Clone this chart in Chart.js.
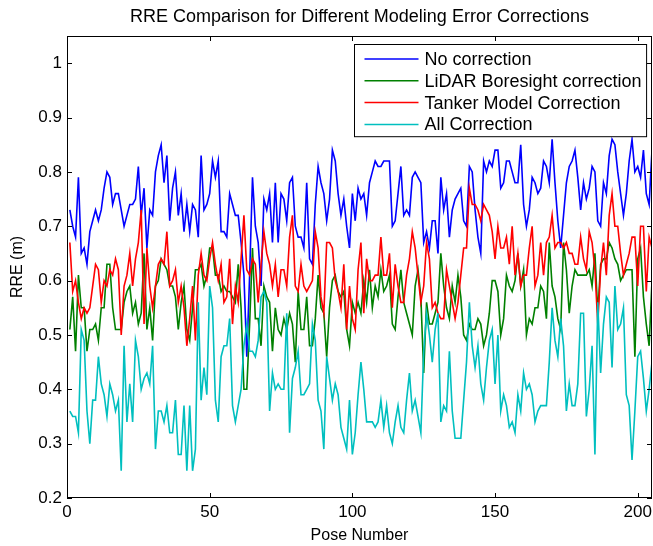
<!DOCTYPE html>
<html lang="en">
<head>
    <meta charset="UTF-8">
    <title>RRE Comparison for Different Modeling Error Corrections</title>
    <script src="https://cdn.jsdelivr.net/npm/chart.js"></script>
    <style>
        html, body { margin: 0; padding: 0; background: #fff; }
        #rreChart { display: block; }
    </style>
</head>
<body>
    <canvas id="rreChart" width="653" height="546"></canvas>

    <script>
        // Series (RRE in metres, one value per pose, pose 1..205)
        const seriesNames = ['No correction', 'LiDAR Boresight correction', 'Tanker Model Correction', 'All Correction'];
        const seriesColors = ['#0000ff', '#008000', '#ff0000', '#00bfbf'];

        const noCorrection = [
            0.73,0.70,0.68,0.79,0.65,0.66,0.63,0.69,0.71,0.73,
            0.71,0.73,0.77,0.80,0.79,0.74,0.76,0.76,0.73,0.70,
            0.72,0.74,0.74,0.75,0.81,0.72,0.77,0.66,0.73,0.72,
            0.80,0.83,0.85,0.78,0.83,0.71,0.77,0.80,0.72,0.76,
            0.69,0.74,0.69,0.74,0.73,0.68,0.83,0.73,0.74,0.76,
            0.82,0.79,0.82,0.69,0.69,0.68,0.76,0.74,0.72,0.72,
            0.67,0.61,0.46,0.61,0.79,0.70,0.67,0.59,0.75,0.73,
            0.76,0.67,0.78,0.67,0.76,0.75,0.71,0.78,0.79,0.70,
            0.68,0.68,0.66,0.78,0.64,0.63,0.74,0.81,0.78,0.76,
            0.71,0.75,0.84,0.82,0.76,0.72,0.75,0.70,0.66,0.76,
            0.71,0.77,0.75,0.76,0.72,0.78,0.80,0.82,0.81,0.81,
            0.82,0.82,0.82,0.70,0.71,0.76,0.81,0.72,0.73,0.72,
            0.79,0.80,0.79,0.78,0.67,0.69,0.66,0.71,0.71,0.65,
            0.79,0.73,0.76,0.68,0.73,0.75,0.76,0.77,0.71,0.70,
            0.81,0.80,0.73,0.68,0.65,0.82,0.80,0.82,0.81,0.84,
            0.84,0.77,0.78,0.82,0.82,0.80,0.78,0.78,0.85,0.74,
            0.70,0.73,0.79,0.78,0.76,0.77,0.82,0.81,0.78,0.86,
            0.78,0.71,0.66,0.72,0.78,0.81,0.82,0.84,0.79,0.73,
            0.78,0.75,0.77,0.81,0.80,0.71,0.70,0.78,0.76,0.83,
            0.86,0.85,0.80,0.76,0.72,0.76,0.82,0.86,0.80,0.81,
            0.79,0.84,0.76,0.74,0.84
        ];
        const lidarCorrection = [
            0.51,0.57,0.47,0.61,0.55,0.55,0.47,0.51,0.51,0.52,
            0.49,0.55,0.55,0.63,0.63,0.55,0.51,0.51,0.51,0.56,
            0.58,0.59,0.54,0.56,0.52,0.54,0.65,0.51,0.55,0.49,
            0.59,0.60,0.64,0.63,0.62,0.59,0.59,0.57,0.51,0.56,
            0.59,0.51,0.49,0.55,0.62,0.62,0.63,0.59,0.61,0.66,
            0.66,0.61,0.61,0.58,0.59,0.58,0.58,0.57,0.56,0.63,
            0.55,0.40,0.40,0.52,0.66,0.53,0.53,0.48,0.59,0.57,
            0.56,0.47,0.55,0.51,0.50,0.53,0.51,0.54,0.52,0.45,
            0.58,0.51,0.51,0.57,0.48,0.48,0.53,0.61,0.55,0.54,
            0.46,0.55,0.60,0.61,0.58,0.57,0.58,0.51,0.48,0.56,
            0.54,0.56,0.54,0.60,0.56,0.62,0.55,0.59,0.57,0.62,
            0.58,0.59,0.61,0.52,0.51,0.57,0.62,0.56,0.54,0.52,
            0.50,0.59,0.62,0.57,0.43,0.56,0.52,0.52,0.54,0.56,
            0.65,0.59,0.55,0.53,0.59,0.56,0.61,0.57,0.50,0.49,
            0.52,0.51,0.51,0.53,0.52,0.48,0.50,0.54,0.60,0.60,
            0.58,0.50,0.53,0.61,0.59,0.58,0.60,0.65,0.59,0.62,
            0.50,0.53,0.52,0.55,0.55,0.59,0.58,0.53,0.67,0.59,
            0.57,0.53,0.51,0.67,0.62,0.54,0.59,0.62,0.61,0.61,
            0.61,0.61,0.62,0.59,0.65,0.54,0.63,0.64,0.64,0.67,
            0.66,0.64,0.63,0.60,0.61,0.62,0.62,0.62,0.46,0.64,
            0.66,0.57,0.52,0.48,0.60
        ];
        const tankerCorrection = [
            0.67,0.58,0.60,0.56,0.53,0.55,0.54,0.55,0.59,0.63,
            0.62,0.56,0.60,0.59,0.62,0.61,0.64,0.62,0.50,0.59,
            0.61,0.65,0.59,0.64,0.67,0.73,0.52,0.66,0.59,0.55,
            0.59,0.63,0.64,0.63,0.69,0.59,0.60,0.62,0.56,0.59,
            0.55,0.48,0.53,0.59,0.49,0.61,0.65,0.61,0.60,0.64,
            0.67,0.63,0.60,0.63,0.56,0.57,0.64,0.52,0.59,0.56,
            0.64,0.72,0.62,0.61,0.64,0.63,0.56,0.63,0.69,0.65,
            0.63,0.59,0.63,0.57,0.62,0.62,0.59,0.68,0.72,0.59,
            0.58,0.63,0.59,0.58,0.59,0.60,0.69,0.66,0.57,0.54,
            0.67,0.67,0.66,0.60,0.58,0.55,0.63,0.51,0.59,0.53,
            0.51,0.62,0.67,0.54,0.64,0.60,0.60,0.61,0.61,0.68,
            0.61,0.61,0.65,0.55,0.63,0.59,0.56,0.56,0.61,0.64,
            0.69,0.66,0.61,0.56,0.59,0.67,0.64,0.55,0.56,0.54,
            0.53,0.53,0.62,0.59,0.56,0.53,0.56,0.61,0.66,0.66,
            0.77,0.74,0.74,0.73,0.71,0.74,0.73,0.72,0.69,0.64,
            0.70,0.66,0.66,0.68,0.63,0.70,0.61,0.65,0.59,0.61,
            0.61,0.66,0.70,0.59,0.61,0.67,0.61,0.67,0.68,0.72,
            0.66,0.67,0.67,0.66,0.67,0.65,0.65,0.63,0.63,0.68,
            0.64,0.62,0.69,0.67,0.62,0.52,0.62,0.67,0.61,0.72,
            0.76,0.70,0.70,0.65,0.61,0.63,0.65,0.68,0.68,0.59,
            0.70,0.70,0.58,0.68,0.66
        ];
        const allCorrection = [
            0.36,0.35,0.35,0.32,0.51,0.49,0.36,0.30,0.38,0.38,
            0.46,0.41,0.39,0.35,0.41,0.39,0.36,0.38,0.25,0.48,
            0.34,0.41,0.34,0.49,0.46,0.40,0.42,0.43,0.41,0.48,
            0.29,0.36,0.36,0.34,0.37,0.32,0.32,0.38,0.28,0.28,
            0.37,0.25,0.37,0.25,0.29,0.56,0.38,0.44,0.39,0.59,
            0.55,0.38,0.34,0.46,0.48,0.48,0.53,0.37,0.34,0.37,
            0.40,0.48,0.52,0.47,0.47,0.46,0.49,0.57,0.58,0.56,
            0.36,0.43,0.40,0.41,0.40,0.40,0.54,0.32,0.42,0.44,
            0.47,0.39,0.39,0.40,0.41,0.52,0.49,0.38,0.36,0.29,
            0.46,0.42,0.38,0.41,0.39,0.33,0.31,0.29,0.38,0.28,
            0.32,0.39,0.45,0.40,0.34,0.34,0.34,0.33,0.34,0.38,
            0.33,0.37,0.32,0.30,0.34,0.37,0.33,0.32,0.38,0.43,
            0.36,0.38,0.35,0.32,0.47,0.54,0.50,0.45,0.51,0.54,
            0.34,0.37,0.36,0.47,0.36,0.31,0.31,0.31,0.38,0.45,
            0.56,0.48,0.44,0.48,0.41,0.38,0.44,0.49,0.51,0.41,
            0.50,0.36,0.39,0.37,0.33,0.34,0.32,0.39,0.36,0.43,
            0.40,0.41,0.39,0.34,0.36,0.37,0.37,0.37,0.45,0.55,
            0.49,0.46,0.53,0.48,0.36,0.41,0.37,0.37,0.41,0.54,
            0.54,0.35,0.40,0.48,0.28,0.56,0.43,0.52,0.57,0.56,
            0.44,0.59,0.51,0.52,0.55,0.39,0.37,0.27,0.36,0.46,
            0.47,0.42,0.36,0.40,0.45
        ];

        // Axis ticks
        const xTicks = [0, 50, 100, 150, 200];
        const yTicks = [0.2, 0.3, 0.4, 0.5, 0.6, 0.7, 0.8, 0.9, 1];
        const yTickLabels = ['0.2', '0.3', '0.4', '0.5', '0.6', '0.7', '0.8', '0.9', '1'];

        const FONT = '"Liberation Sans", Arial, Helvetica, sans-serif';
        const allSeries = [noCorrection, lidarCorrection, tankerCorrection, allCorrection];

        // pose number = position in the series (1-based)
        const toPoints = arr => arr.map((v, i) => ({ x: i + 1, y: v }));

        // matlab-style box with inward tick marks on all four sides
        const boxTicks = {
            id: 'boxTicks',
            afterDatasetsDraw(chart) {
                const { ctx, chartArea: a, scales: { x, y } } = chart;
                const len = 5;
                ctx.save();
                ctx.strokeStyle = '#000';
                ctx.lineWidth = 1;
                ctx.beginPath();
                xTicks.forEach(v => {
                    const px = Math.round(x.getPixelForValue(v)) + 0.5;
                    ctx.moveTo(px, a.bottom); ctx.lineTo(px, a.bottom - len);
                    ctx.moveTo(px, a.top); ctx.lineTo(px, a.top + len);
                });
                yTicks.forEach(v => {
                    const py = Math.round(y.getPixelForValue(v)) + 0.5;
                    ctx.moveTo(a.left, py); ctx.lineTo(a.left + len, py);
                    ctx.moveTo(a.right, py); ctx.lineTo(a.right - len, py);
                });
                ctx.stroke();
                ctx.strokeRect(Math.round(a.left) + 0.5, Math.round(a.top) + 0.5,
                    Math.round(a.right - a.left) - 1, Math.round(a.bottom - a.top) - 1);
                ctx.restore();
            }
        };

        // legend box in the upper right corner of the axes
        const boxLegend = {
            id: 'boxLegend',
            afterDraw(chart) {
                const { ctx, chartArea: a } = chart;
                ctx.save();
                ctx.font = '18px ' + FONT;
                const textW = Math.max(...seriesNames.map(n => ctx.measureText(n).width));
                const rowH = 21.8;
                const w = 70 + textW + 5;
                const h = seriesNames.length * rowH + 5;
                const left = Math.round(a.right - 6 - w) + 0.5;
                const top = Math.round(a.top + 8) + 0.5;
                ctx.fillStyle = '#fff';
                ctx.fillRect(left, top, w, h);
                ctx.strokeStyle = '#000';
                ctx.lineWidth = 1;
                ctx.strokeRect(left, top, w, h);
                ctx.textBaseline = 'middle';
                ctx.textAlign = 'left';
                seriesNames.forEach((name, i) => {
                    const cy = top + 14.5 + i * rowH;
                    ctx.strokeStyle = seriesColors[i];
                    ctx.lineWidth = 1.5;
                    ctx.beginPath();
                    ctx.moveTo(left + 10, cy);
                    ctx.lineTo(left + 64, cy);
                    ctx.stroke();
                    ctx.fillStyle = '#000';
                    ctx.fillText(name, left + 70, cy + 1);
                });
                ctx.restore();
            }
        };

        const config = {
            type: 'line',
            data: {
                datasets: allSeries.map((arr, i) => ({
                    label: seriesNames[i],
                    data: toPoints(arr),
                    borderColor: seriesColors[i],
                    backgroundColor: seriesColors[i],
                    borderWidth: 1.6,
                    pointRadius: 0,
                    tension: 0,
                    fill: false,
                    order: allSeries.length - i
                }))
            },
            options: {
                responsive: false,
                animation: false,
                layout: { padding: { left: 0, right: 1, top: 0, bottom: 0 } },
                plugins: {
                    legend: { display: false },
                    tooltip: { enabled: false },
                    title: {
                        display: true,
                        fullSize: false, // centre over the axes, not the canvas
                        text: 'RRE Comparison for Different Modeling Error Corrections',
                        color: '#000',
                        font: { family: FONT, size: 18, weight: 'normal' },
                        padding: { top: 6, bottom: 8.4 }
                    }
                },
                scales: {
                    x: {
                        type: 'linear',
                        min: 0,
                        max: 205,
                        afterBuildTicks: s => { s.ticks = xTicks.map(v => ({ value: v })); },
                        afterFit: s => {
                            s.height = 48;
                            // let the last label run to the canvas edge like the original
                            s.paddingLeft = 0;
                            s.paddingRight = 0;
                        },
                        grid: { display: false, drawTicks: false },
                        border: { display: false },
                        ticks: {
                            color: '#000',
                            padding: 4,
                            maxRotation: 0,
                            font: { family: FONT, size: 17 },
                            callback: v => String(v)
                        },
                        title: {
                            display: true,
                            text: 'Pose Number',
                            color: '#000',
                            font: { family: FONT, size: 16 },
                            padding: { top: 0, bottom: 1 }
                        }
                    },
                    y: {
                        type: 'linear',
                        min: 0.2,
                        max: 1.05,
                        afterBuildTicks: s => { s.ticks = yTicks.map(v => ({ value: v })); },
                        afterFit: s => { s.width = 67; },
                        grid: { display: false, drawTicks: false },
                        border: { display: false },
                        ticks: {
                            color: '#000',
                            padding: 5,
                            font: { family: FONT, size: 17 },
                            callback: (v, i) => yTickLabels[i]
                        },
                        title: {
                            display: true,
                            text: 'RRE (m)',
                            color: '#000',
                            font: { family: FONT, size: 16 },
                            padding: { top: 7.5, bottom: 0 }
                        }
                    }
                }
            },
            plugins: [boxTicks, boxLegend]
        };

        const rreChart = new Chart(document.getElementById('rreChart'), config);
    </script>
</body>
</html>
